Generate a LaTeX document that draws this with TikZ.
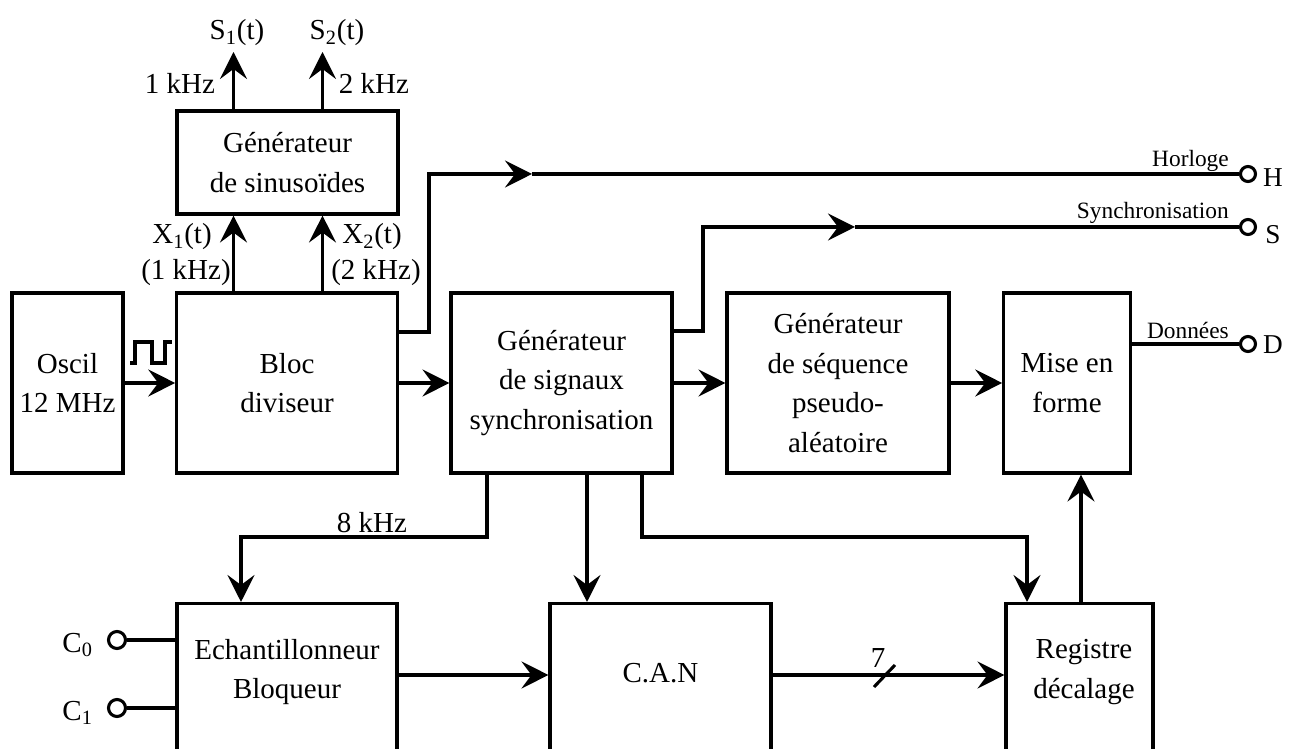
\documentclass[tikz,border=0pt]{standalone}
\usepackage{fontspec}
\setmainfont{Liberation Serif}
\usetikzlibrary{arrows.meta,positioning}

\begin{document}
\begin{tikzpicture}[
  font=\fontsize{16.5}{22.5}\selectfont,
  block/.style={draw, line width=1.75pt, align=center, inner sep=0pt},
  arrow/.style={-{Stealth[length=5.4mm, width=5.4mm, inset=2mm]}, line width=1.75pt},
  wire/.style={line width=1.75pt},
  term/.style={draw, circle, line width=1.75pt, minimum size=3mm, inner sep=0pt},
  smalllabel/.style={font=\fontsize{13.3}{16}\selectfont},
  portlabel/.style={font=\fontsize{15.5}{18}\selectfont}
]
\clip (0,0) rectangle (25.82,14.98);

% upper row
\node[block, minimum width=2.22cm, minimum height=3.6cm] (oscil) at (1.35,7.32) {Oscil\\12 MHz};
\node[block, minimum width=4.41cm, minimum height=3.6cm] (bloc) at (5.74,7.32) {Bloc\\diviseur};
\node[block, minimum width=4.42cm, minimum height=2.06cm] (sinus) at (5.75,11.73) {Générateur\\de sinusoïdes};
\node[block, minimum width=4.42cm, minimum height=3.6cm] (signaux) at (11.23,7.32) {Générateur\\de signaux\\synchronisation};
\node[block, minimum width=4.44cm, minimum height=3.6cm] (sequence) at (16.76,7.32) {Générateur\\de séquence\\pseudo-\\aléatoire};
\node[block, minimum width=2.53cm, minimum height=3.6cm] (mise) at (21.34,7.32) {Mise en\\forme};

% lower row (cut by the page edge)
\node[block, anchor=north, minimum width=4.40cm, minimum height=4cm] (echant) at (5.74,2.94) {};
\node[align=center] (echanttext) at (5.74,1.54) {Echantillonneur\\Bloqueur};
\node[block, anchor=north, minimum width=4.42cm, minimum height=4cm] (can) at (13.21,2.94) {};
\node (cantext) at (13.21,1.52) {C.A.N};
\node[block, anchor=north, minimum width=2.94cm, minimum height=4cm] (registre) at (21.59,2.94) {};
\node[align=center] (registretext) at (21.68,1.54) {Registre\\décalage};

% terminals
\node[term] (hout) at (24.96,11.50) {};
\node[term] (sout) at (24.96,10.44) {};
\node[term] (dout) at (24.96,8.10) {};
\node[term, minimum size=3.4mm] (czero) at (2.34,2.18) {};
\node[term, minimum size=3.4mm] (cone) at (2.34,0.82) {};
\node[portlabel] (hlabel) at (25.46,11.42) {H};
\node[portlabel] (slabel) at (25.46,10.28) {S};
\node[portlabel] (dlabel) at (25.46,8.08) {D};
\node[anchor=east] (czerolabel) at (1.98,2.08) {C\textsubscript{0}};
\node[anchor=east] (conelabel) at (1.98,0.72) {C\textsubscript{1}};

% sinus generator
\coordinate (xone) at (4.67,0);
\coordinate (xtwo) at (6.45,0);
\coordinate (sonetip) at (4.67,13.94);
\coordinate (stwotip) at (6.45,13.94);
\draw[arrow] (xone |- bloc.north) -- (xone |- sinus.south);
\draw[arrow] (xtwo |- bloc.north) -- (xtwo |- sinus.south);
\draw[arrow] (xone |- sinus.north) -- (sonetip);
\draw[arrow] (xtwo |- sinus.north) -- (stwotip);
\node (sone) at (4.74,14.32) {S\textsubscript{1}(t)};
\node (stwo) at (6.74,14.32) {S\textsubscript{2}(t)};
\node (fone) at (3.60,13.32) {1 kHz};
\node (ftwo) at (7.48,13.32) {2 kHz};
\node (xonename) at (3.64,10.24) {X\textsubscript{1}(t)};
\node (xonefreq) at (3.72,9.52) {(1 kHz)};
\node (xtwoname) at (7.44,10.24) {X\textsubscript{2}(t)};
\node (xtwofreq) at (7.52,9.52) {(2 kHz)};

% main chain
\draw[wire] (2.60,7.72) -- (2.70,7.72) -- (2.70,8.14) -- (3.04,8.14) -- (3.04,7.72) -- (3.30,7.72) -- (3.30,8.14) -- (3.44,8.14);
\draw[arrow] (oscil) -- (bloc);
\draw[arrow] (bloc) -- (signaux);
\draw[arrow] (signaux) -- (sequence);
\draw[arrow] (sequence) -- (mise);

% outputs
\coordinate (hmid) at (10.64,11.50);
\draw[arrow] (bloc.east |- 0,8.34) -- (8.58,8.34) |- (hmid);
\draw[wire] (hmid) -- (hout.west);
\node[smalllabel, anchor=base east] (horloge) at (24.70,11.64) {Horloge};
\coordinate (smid) at (17.10,10.44);
\draw[arrow] (signaux.east |- 0,8.36) -- (14.06,8.36) |- (smid);
\draw[wire] (smid) -- (sout.west);
\node[smalllabel, anchor=base east] (synchro) at (24.70,10.60) {Synchronisation};
\draw[wire] (mise.east |- dout) -- (dout.west);
\node[smalllabel, anchor=base east] (donnees) at (24.70,8.20) {Données};

% lower connections
\draw[arrow] (9.74,0 |- signaux.south) |- (4.82,4.24) -- (4.82,0 |- echant.north);
\node (eightk) at (7.44,4.52) {8 kHz};
\draw[arrow] (11.74,0 |- signaux.south) -- (11.74,0 |- can.north);
\draw[arrow] (12.84,0 |- signaux.south) |- (20.54,4.24) -- (20.54,0 |- registre.north);
\draw[arrow] (21.62,0 |- registre.north) -- (21.62,0 |- mise.south);
\draw[wire] (czero.east) -- (czero.east -| echant.west);
\draw[wire] (cone.east) -- (cone.east -| echant.west);
\draw[arrow] (echant.east |- 0,1.48) -- (can.west |- 0,1.48);
\draw[arrow] (can.east |- 0,1.48) -- (registre.west |- 0,1.48);
\draw[wire] (17.48,1.24) -- (17.90,1.68);
\node (bits) at (17.56,1.82) {7};
\end{tikzpicture}
\end{document}
